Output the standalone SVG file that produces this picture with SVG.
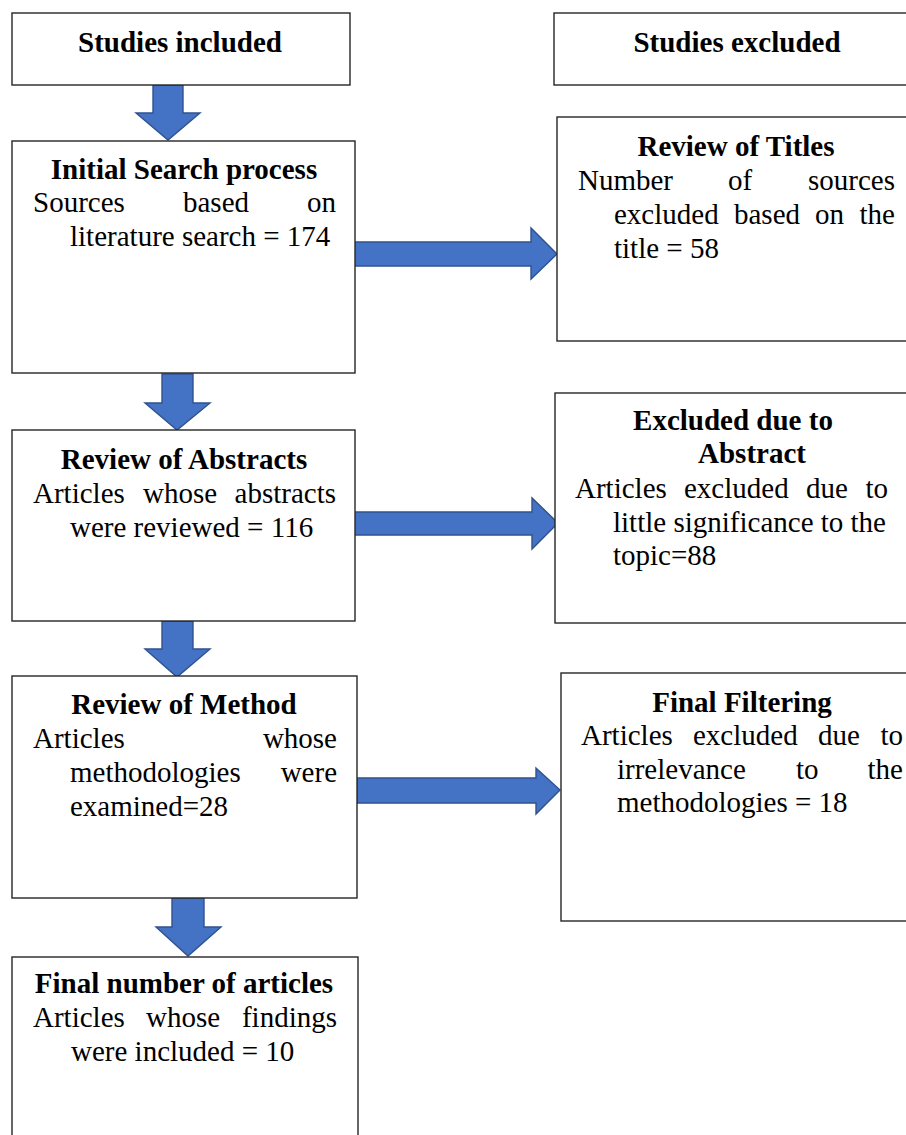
<svg xmlns="http://www.w3.org/2000/svg" width="906" height="1135" viewBox="0 0 906 1135">
<style>
.box{fill:#fff;stroke:#262626;stroke-width:1.4}
.arr{fill:#4472C4;stroke:#2F528F;stroke-width:1.4;stroke-linejoin:miter}
text{font-family:"Liberation Serif","Times New Roman",serif;font-size:29px;fill:#000}
.b{font-weight:bold}
.m{text-anchor:middle}
.e{text-anchor:end}
</style>
<rect width="906" height="1135" fill="#fff"/>
<g id="connectors">
<path class="arr" d="M153,85 H183 V113 H200 L168,140 L136,113 H153 Z"/>
<path class="arr" d="M162,374 H193 V403 H210 L177,430 L145,403 H162 Z"/>
<path class="arr" d="M162,621 H193 V649 H210 L177,677 L145,649 H162 Z"/>
<path class="arr" d="M172,898 H204 V927 H221 L188,956 L156,927 H172 Z"/>
<path class="arr" d="M350,242 H531 V228 L557,254 L531,279 V266 H350 Z"/>
<path class="arr" d="M352,512 H532 V498 L558,523 L532,549 V535 H352 Z"/>
<path class="arr" d="M357,778 H536 V768 L560,790 L536,814 V803 H357 Z"/>
</g>
<g id="studies-included">
<rect class="box" x="12" y="13" width="338" height="72"/>
<text class="b m" x="180" y="52">Studies included</text>
</g>
<g id="studies-excluded">
<rect class="box" x="554" y="13" width="360" height="72"/>
<text class="b m" x="737" y="52">Studies excluded</text>
</g>
<g id="initial-search">
<rect class="box" x="12" y="141" width="343" height="232"/>
<text class="b m" x="184" y="179">Initial Search process</text>
<text x="33" y="212">Sources</text>
<text x="183" y="212">based</text>
<text class="e" x="336" y="212">on</text>
<text x="70" y="246">literature search = 174</text>
</g>
<g id="review-titles">
<rect class="box" x="557" y="117" width="357" height="224"/>
<text class="b m" x="736" y="156">Review of Titles</text>
<text x="578" y="190">Number</text>
<text x="728" y="190">of</text>
<text class="e" x="895" y="190">sources</text>
<text x="614" y="224">excluded</text>
<text x="734" y="224">based</text>
<text x="815" y="224">on</text>
<text class="e" x="895" y="224">the</text>
<text x="614" y="258">title = 58</text>
</g>
<g id="review-abstracts">
<rect class="box" x="12" y="430" width="343" height="191"/>
<text class="b m" x="184" y="469">Review of Abstracts</text>
<text x="33" y="503">Articles</text>
<text x="143" y="503">whose</text>
<text class="e" x="336" y="503">abstracts</text>
<text x="70" y="537">were reviewed = 116</text>
</g>
<g id="excluded-abstract">
<rect class="box" x="555" y="393" width="359" height="230"/>
<text class="b m" x="733" y="430">Excluded due to</text>
<text class="b m" x="752" y="463">Abstract</text>
<text x="575" y="498">Articles</text>
<text x="684" y="498">excluded</text>
<text x="806" y="498">due</text>
<text class="e" x="888" y="498">to</text>
<text x="613" y="532">little significance to the</text>
<text x="613" y="565">topic=88</text>
</g>
<g id="review-method">
<rect class="box" x="12" y="676" width="345" height="222"/>
<text class="b m" x="184" y="714">Review of Method</text>
<text x="33" y="748">Articles</text>
<text class="e" x="337" y="748">whose</text>
<text x="70" y="782">methodologies</text>
<text class="e" x="337" y="782">were</text>
<text x="70" y="816">examined=28</text>
</g>
<g id="final-filtering">
<rect class="box" x="561" y="673" width="353" height="248"/>
<text class="b m" x="742" y="712">Final Filtering</text>
<text x="581" y="745">Articles</text>
<text x="693" y="745">excluded</text>
<text x="818" y="745">due</text>
<text class="e" x="903" y="745">to</text>
<text x="617" y="779">irrelevance</text>
<text x="796" y="779">to</text>
<text class="e" x="903" y="779">the</text>
<text x="617" y="812">methodologies = 18</text>
</g>
<g id="final-number">
<rect class="box" x="12" y="957" width="346" height="190"/>
<text class="b m" x="184" y="993">Final number of articles</text>
<text x="33" y="1027">Articles</text>
<text x="146" y="1027">whose</text>
<text class="e" x="337" y="1027">findings</text>
<text x="71" y="1061">were included = 10</text>
</g>
</svg>
